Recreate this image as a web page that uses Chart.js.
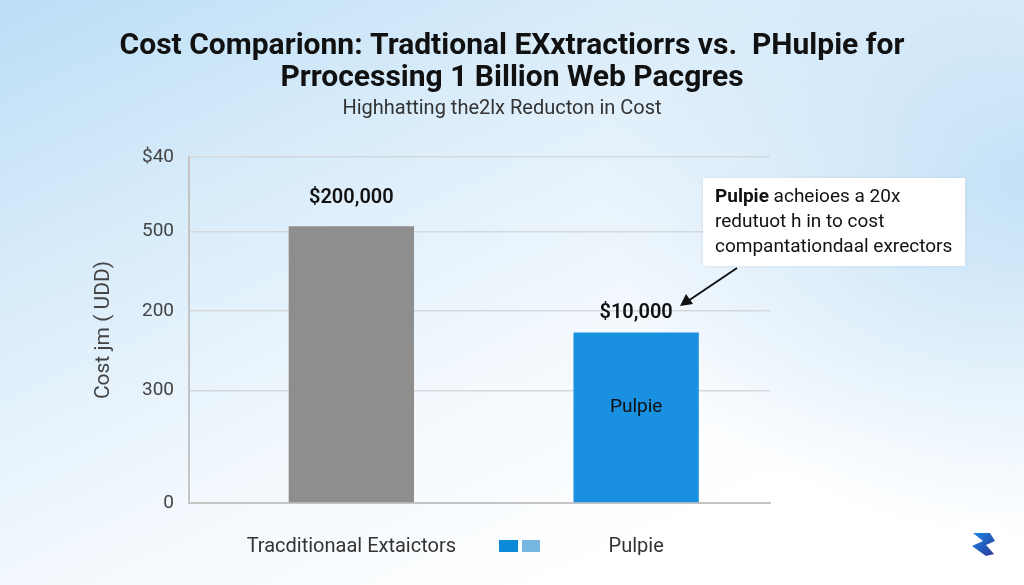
<!DOCTYPE html>
<html>
<head>
<meta charset="utf-8">
<script src="https://cdn.jsdelivr.net/npm/chart.js@4"></script>
<style>
  html, body { margin: 0; padding: 0; }
  body {
    width: 1024px; height: 585px; overflow: hidden;
    background:
      radial-gradient(ellipse 420px 360px at 1024px 180px, rgba(190,222,246,0.9), rgba(190,222,246,0) 100%),
      linear-gradient(155deg, #bbdef6 0%, #d9ecfa 28%, #f2f8fd 55%, #ffffff 80%);
  }
  #wrap { position: relative; width: 1024px; height: 585px; }
  canvas { display: block; }
</style>
</head>
<body>
<div id="wrap"><canvas id="costChart" width="1024" height="585"></canvas></div>
<script>
/********************
DATA
********************/

var categories = ["Tracditionaal Extaictors", "Pulpie"];
var categoryPos = [1, 2];
// bar heights as drawn, in the axis units of the picture
var barValues = [320, 197];
var valueLabels = ["$200,000", "$10,000"];
var insideLabels = ["", "Pulpie"];
// gridline positions and the (odd) labels printed next to them
var tickValues = [0, 130, 222, 314, 400];
var tickLabels = ["0", "300", "200", "500", "$40"];

var titleLines = ['Cost Comparionn: Tradtional EXxtractiorrs vs.  PHulpie for', 'Prrocessing 1 Billion Web Pacgres'];
var subtitleText = 'Highhatting the2lx Reducton in Cost';

var barColors = ['#8e8e8e', '#1a90e0'];
var FONT = 'Roboto, "Liberation Sans", sans-serif';

/********************
EXTRA DRAWING
********************/

var extras = {
  id: 'extras',
  afterDatasetsDraw: function (chart) {
    var ctx = chart.ctx;
    var meta = chart.getDatasetMeta(0);
    ctx.save();
    ctx.textAlign = 'center';
    meta.data.forEach(function (bar, i) {
      ctx.fillStyle = '#111';
      ctx.font = '600 20px ' + FONT;
      ctx.textBaseline = 'bottom';
      ctx.fillText(valueLabels[i], bar.x, bar.y - (i === 0 ? 18 : 10));
      if (insideLabels[i]) {
        ctx.font = '19px ' + FONT;
        ctx.textBaseline = 'middle';
        ctx.fillText(insideLabels[i], bar.x, 407);
      }
    });
    ctx.restore();
  },
  afterDraw: function (chart) {
    var ctx = chart.ctx;
    ctx.save();

    // titles, centred on the page
    ctx.textAlign = 'center';
    ctx.textBaseline = 'middle';
    ctx.fillStyle = '#111';
    ctx.font = 'bold 30px ' + FONT;
    ctx.fillText(titleLines[0], 512, 46);
    ctx.fillText(titleLines[1], 512, 78);
    ctx.fillStyle = '#333';
    ctx.font = '20px ' + FONT;
    ctx.fillText(subtitleText, 502, 109);

    // annotation box
    ctx.fillStyle = '#ffffff';
    ctx.shadowColor = 'rgba(0,0,0,0.08)';
    ctx.shadowBlur = 4;
    ctx.fillRect(703, 178, 262, 88);
    ctx.shadowBlur = 0;
    ctx.fillStyle = '#111';
    ctx.textAlign = 'left';
    ctx.font = 'bold 19px ' + FONT;
    ctx.fillText('Pulpie', 715, 197);
    var w = ctx.measureText('Pulpie ').width;
    ctx.font = '19px ' + FONT;
    ctx.fillText('acheioes a 20x', 715 + w, 197);
    ctx.fillText('redutuot h in to cost', 715, 222);
    ctx.fillText('compantationdaal exrectors', 715, 247);

    // arrow
    ctx.strokeStyle = '#111';
    ctx.lineWidth = 2;
    ctx.beginPath();
    ctx.moveTo(737, 268);
    ctx.lineTo(688, 301);
    ctx.stroke();
    ctx.beginPath();
    ctx.moveTo(680, 306);
    ctx.lineTo(686, 294);
    ctx.lineTo(693, 304);
    ctx.closePath();
    ctx.fill();

    // little legend squares between the two labels
    ctx.fillStyle = '#0a8ad8';
    ctx.fillRect(499, 540, 19, 12);
    ctx.fillStyle = '#78b6e2';
    ctx.fillRect(522, 540, 18, 12);

    // logo in the corner
    ctx.fillStyle = '#ffffff';
    ctx.fillRect(962, 522, 42, 42);
    var g = ctx.createLinearGradient(972, 533, 996, 556);
    g.addColorStop(0, '#1e88e5');
    g.addColorStop(1, '#283593');
    ctx.fillStyle = g;
    ctx.beginPath();
    ctx.moveTo(973, 533);
    ctx.lineTo(990, 533);
    ctx.lineTo(995, 541);
    ctx.lineTo(986, 545);
    ctx.lineTo(994, 554);
    ctx.lineTo(986, 556);
    ctx.lineTo(972, 546);
    ctx.lineTo(983, 541);
    ctx.closePath();
    ctx.fill();

    ctx.restore();
  }
};

/********************
BAR CHART
********************/

var ctx = document.getElementById('costChart').getContext('2d');
var chart = new Chart(ctx, {
  type: 'bar',
  data: {
    datasets: [{
      data: categoryPos.map(function (x, i) { return { x: x, y: barValues[i] }; }),
      backgroundColor: barColors,
      borderWidth: 0,
      categoryPercentage: 1,
      barPercentage: 0.44
    }]
  },
  options: {
    responsive: false,
    animation: false,
    layout: { padding: { left: 79, right: 254, top: 157, bottom: 30 } },
    plugins: {
      legend: { display: false },
      tooltip: { enabled: false }
    },
    scales: {
      x: {
        type: 'linear',
        offset: false,
        min: 0.43,
        max: 2.47,
        afterBuildTicks: function (scale) {
          scale.ticks = categoryPos.map(function (v) { return { value: v }; });
        },
        grid: { display: false, drawTicks: false },
        border: { display: true, color: '#c4c4c4', width: 2 },
        ticks: {
          padding: 32,
          color: '#333',
          font: { family: FONT, size: 20 },
          callback: function (value) {
            var i = categoryPos.indexOf(value);
            return i >= 0 ? categories[i] : '';
          }
        },
        afterFit: function (scale) { scale.height = 52; }
      },
      y: {
        min: 0,
        max: 400,
        afterBuildTicks: function (scale) {
          scale.ticks = tickValues.map(function (v) { return { value: v }; });
        },
        grid: { color: '#d6d9dc', lineWidth: 1.5, drawTicks: false },
        border: { display: true, color: '#c4c4c4', width: 2 },
        ticks: {
          padding: 15,
          color: '#444',
          font: { family: FONT, size: 19 },
          callback: function (value) {
            var i = tickValues.indexOf(value);
            return i >= 0 ? tickLabels[i] : '';
          }
        },
        title: {
          display: true,
          text: 'Cost jm ( UDD)',
          color: '#444',
          font: { family: FONT, size: 21 },
          padding: { top: 12, bottom: 0 }
        },
        afterFit: function (scale) { scale.width = 110; }
      }
    }
  },
  plugins: [extras]
});
</script>
</body>
</html>
